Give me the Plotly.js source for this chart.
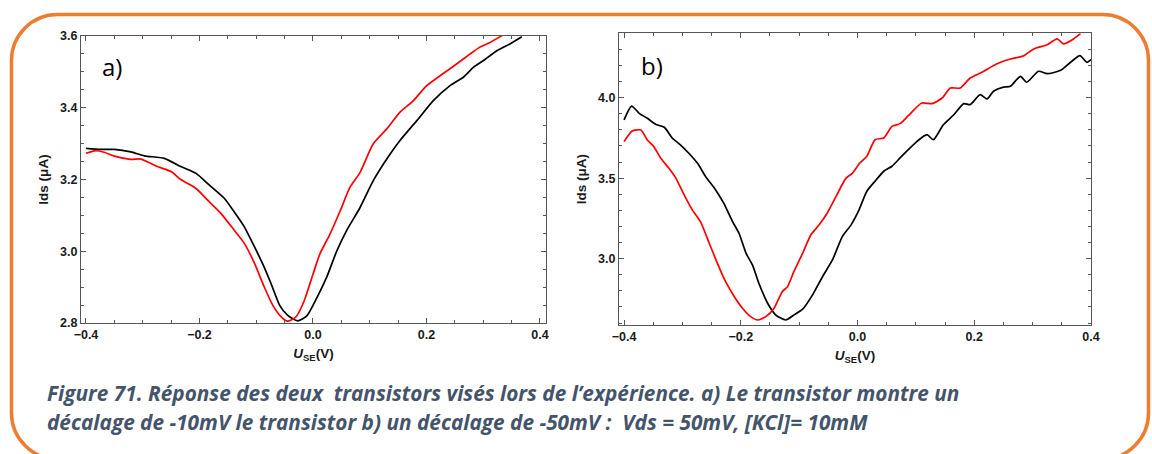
<!DOCTYPE html>
<html>
<head>
<meta charset="utf-8">
<script src="https://cdn.plot.ly/plotly-3.0.1.min.js"></script>
<style>html,body{margin:0;padding:0;background:#fff;}#chart{width:1152px;height:454px;}</style>
</head>
<body>
<div id="chart"></div>
<script>
// Panel a) data
const xA_black = [-0.400,-0.374,-0.350,-0.321,-0.297,-0.262,-0.233,-0.206,-0.186,-0.156,-0.139,-0.121,-0.103,-0.089,-0.074,-0.059,-0.045,-0.027,-0.011,0.007,0.024,0.042,0.059,0.083,0.106,0.130,0.153,0.183,0.212,0.241,0.265,0.283,0.300,0.324,0.347,0.368];
const yA_black = [3.287,3.284,3.284,3.277,3.266,3.259,3.236,3.217,3.189,3.147,3.110,3.068,3.012,2.966,2.910,2.850,2.822,2.806,2.820,2.871,2.927,3.001,3.057,3.122,3.196,3.257,3.308,3.364,3.420,3.461,3.485,3.513,3.531,3.559,3.578,3.598];
const xA_red = [-0.400,-0.385,-0.368,-0.350,-0.321,-0.303,-0.274,-0.250,-0.233,-0.206,-0.186,-0.162,-0.139,-0.121,-0.103,-0.086,-0.071,-0.056,-0.045,-0.030,-0.016,0.000,0.012,0.030,0.048,0.065,0.083,0.106,0.130,0.153,0.177,0.200,0.230,0.253,0.277,0.294,0.312,0.333];
const yA_red = [3.273,3.280,3.276,3.265,3.256,3.257,3.236,3.222,3.200,3.175,3.143,3.105,3.059,3.022,2.966,2.901,2.850,2.817,2.805,2.817,2.860,2.936,2.992,3.048,3.113,3.178,3.220,3.299,3.341,3.387,3.420,3.461,3.496,3.522,3.550,3.569,3.582,3.601];

// Panel b) data
const xB_black = [-0.400,-0.387,-0.374,-0.360,-0.346,-0.331,-0.317,-0.303,-0.289,-0.274,-0.260,-0.243,-0.229,-0.214,-0.203,-0.191,-0.180,-0.169,-0.154,-0.140,-0.123,-0.109,-0.094,-0.077,-0.060,-0.043,-0.026,-0.011,0.002,0.016,0.030,0.045,0.059,0.073,0.087,0.102,0.119,0.130,0.147,0.165,0.182,0.193,0.210,0.222,0.233,0.250,0.262,0.279,0.290,0.310,0.325,0.348,0.365,0.381,0.393,0.400];
const yB_black = [3.862,3.948,3.903,3.872,3.835,3.816,3.748,3.706,3.655,3.592,3.509,3.427,3.344,3.230,3.158,3.034,2.961,2.847,2.723,2.650,2.619,2.650,2.686,2.775,2.888,2.992,3.137,3.210,3.298,3.419,3.481,3.543,3.574,3.626,3.677,3.729,3.770,3.739,3.832,3.894,3.963,3.957,4.019,3.992,4.040,4.066,4.071,4.133,4.096,4.164,4.149,4.170,4.220,4.261,4.220,4.236];
const xB_red = [-0.400,-0.386,-0.371,-0.360,-0.349,-0.337,-0.323,-0.311,-0.297,-0.283,-0.269,-0.254,-0.240,-0.226,-0.211,-0.197,-0.183,-0.171,-0.157,-0.143,-0.129,-0.120,-0.109,-0.094,-0.080,-0.066,-0.052,-0.037,-0.020,-0.009,0.004,0.016,0.030,0.045,0.059,0.073,0.087,0.110,0.128,0.145,0.159,0.176,0.193,0.213,0.239,0.262,0.285,0.302,0.325,0.342,0.353,0.368,0.382];
const yB_red = [3.727,3.793,3.799,3.737,3.696,3.624,3.561,3.499,3.396,3.303,3.230,3.096,2.971,2.857,2.764,2.692,2.640,2.619,2.640,2.692,2.795,2.826,2.919,3.034,3.147,3.209,3.282,3.385,3.499,3.530,3.594,3.636,3.739,3.750,3.822,3.839,3.888,3.967,3.963,3.998,4.060,4.060,4.122,4.158,4.211,4.240,4.261,4.303,4.329,4.365,4.334,4.360,4.398];

// Text
const panelLabels = ["a)", "b)"];
const yTitle = "<b>Ids (μA)</b>";
const xTitle = "<b><i>U</i><sub>SE</sub>(V)</b>";
const captionLines = [
  "Figure 71. Réponse des deux  transistors visés lors de l’expérience. a) Le transistor montre un",
  "décalage de -10mV le transistor b) un décalage de -50mV :  Vds = 50mV, [KCl]= 10mM"
];

const W = 1152, H = 454;
const fx = px => px / W;
const fy = py => 1 - py / H;

const lineStyle = (c) => ({color: c, width: 1.7, shape: 'spline', smoothing: 0.6});
const traces = [
  {x: xA_black, y: yA_black, xaxis: 'x', yaxis: 'y', mode: 'lines', line: lineStyle('#000000'), hoverinfo: 'skip'},
  {x: xA_red, y: yA_red, xaxis: 'x', yaxis: 'y', mode: 'lines', line: lineStyle('#ff0000'), hoverinfo: 'skip'},
  {x: xB_black, y: yB_black, xaxis: 'x2', yaxis: 'y2', mode: 'lines', line: lineStyle('#000000'), hoverinfo: 'skip'},
  {x: xB_red, y: yB_red, xaxis: 'x2', yaxis: 'y2', mode: 'lines', line: lineStyle('#ff0000'), hoverinfo: 'skip'}
];

const tickFont = {family: 'Liberation Sans, Arial, sans-serif', size: 12.5, color: '#1a1a1a', weight: 'bold'};
const titleFont = {family: 'Liberation Sans, Arial, sans-serif', size: 13.5, color: '#1a1a1a'};
function axisBase(extra) {
  return Object.assign({
    showgrid: false, zeroline: false, showline: true, mirror: 'allticks',
    linecolor: '#555555', linewidth: 1,
    ticks: 'inside', ticklen: 5, tickwidth: 1, tickcolor: '#555555',
    tickfont: tickFont, tickformat: '.1f', fixedrange: true
  }, extra);
}

// rounded border path (pixel coords -> paper fractions)
function roundedRect(x0, y0, x1, y1, r) {
  const k = 0.5523 * r;
  const P = (x, y) => fx(x).toFixed(5) + ',' + fy(y).toFixed(5);
  return 'M' + P(x0 + r, y0) + ' L' + P(x1 - r, y0) +
    ' C' + P(x1 - r + k, y0) + ' ' + P(x1, y0 + r - k) + ' ' + P(x1, y0 + r) +
    ' L' + P(x1, y1 - r) +
    ' C' + P(x1, y1 - r + k) + ' ' + P(x1 - r + k, y1) + ' ' + P(x1 - r, y1) +
    ' L' + P(x0 + r, y1) +
    ' C' + P(x0 + r - k, y1) + ' ' + P(x0, y1 - r + k) + ' ' + P(x0, y1 - r) +
    ' L' + P(x0, y0 + r) +
    ' C' + P(x0, y0 + r - k) + ' ' + P(x0 + r - k, y0) + ' ' + P(x0 + r, y0) + ' Z';
}

const layout = {
  width: W, height: H,
  margin: {l: 0, r: 0, t: 0, b: 0, pad: 0},
  paper_bgcolor: '#ffffff', plot_bgcolor: '#ffffff',
  showlegend: false,
  xaxis: axisBase({domain: [fx(81), fx(546)], range: [-0.4088, 0.4106], dtick: 0.2, tick0: -0.4,
    minor: {dtick: 0.05, ticklen: 3, tickcolor: '#555555', ticks: 'inside'},
    title: {text: xTitle, font: titleFont, standoff: 7}, anchor: 'y'}),
  yaxis: axisBase({domain: [fy(323), fy(36)], range: [2.8, 3.6], dtick: 0.2, tick0: 2.8,
    minor: {dtick: 0.05, ticklen: 3, tickcolor: '#555555', ticks: 'inside'},
    title: {text: yTitle, font: titleFont, standoff: 8}, anchor: 'x'}),
  xaxis2: axisBase({domain: [fx(619), fx(1091)], range: [-0.4086, 0.4], dtick: 0.2, tick0: -0.4,
    minor: {dtick: 0.05, ticklen: 3, tickcolor: '#555555', ticks: 'inside'},
    title: {text: xTitle, font: titleFont, standoff: 7}, anchor: 'y2'}),
  yaxis2: axisBase({domain: [fy(325), fy(33.3)], range: [2.588, 4.4], dtick: 0.5, tick0: 3.0,
    minor: {dtick: 0.1, ticklen: 3, tickcolor: '#555555', ticks: 'inside'},
    title: {text: yTitle, font: titleFont, standoff: 8}, anchor: 'x2'}),
  shapes: [{
    type: 'path', xref: 'paper', yref: 'paper', layer: 'below',
    path: roundedRect(11.5, 14.5, 1148.5, 459, 46),
    line: {color: '#ED7D31', width: 3.5}, fillcolor: 'rgba(0,0,0,0)'
  }],
  annotations: [
    {text: panelLabels[0], xref: 'paper', yref: 'paper', x: fx(100), y: fy(66), xanchor: 'left', yanchor: 'middle', showarrow: false,
     font: {family: 'Open Sans, sans-serif', size: 24, color: '#000000'}},
    {text: panelLabels[1], xref: 'paper', yref: 'paper', x: fx(639), y: fy(65), xanchor: 'left', yanchor: 'middle', showarrow: false,
     font: {family: 'Open Sans, sans-serif', size: 24, color: '#000000'}},
    {text: '<b><i>' + captionLines[0] + '</i></b>', xref: 'paper', yref: 'paper', x: fx(45), y: fy(393), xanchor: 'left', yanchor: 'middle', showarrow: false,
     font: {family: 'Open Sans, sans-serif', size: 20.8, color: '#44546A'}},
    {text: '<b><i>' + captionLines[1] + '</i></b>', xref: 'paper', yref: 'paper', x: fx(45), y: fy(422), xanchor: 'left', yanchor: 'middle', showarrow: false,
     font: {family: 'Open Sans, sans-serif', size: 20.8, color: '#44546A'}}
  ]
};

Plotly.newPlot('chart', traces, layout, {displayModeBar: false, staticPlot: true});
</script>
</body>
</html>
